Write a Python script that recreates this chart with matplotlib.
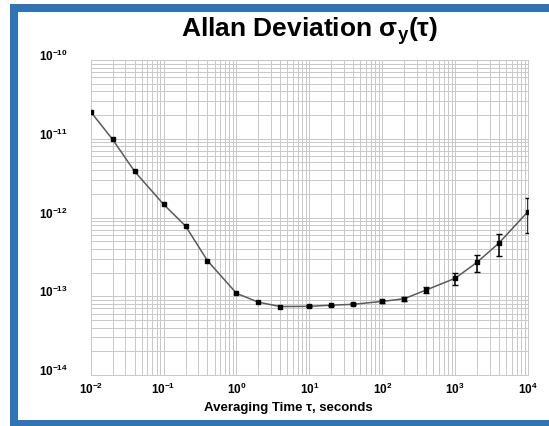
"""
Allan deviation of a frequency standard vs averaging time, log-log with
full decade grid and a blue slide frame round the figure.
"""

import numpy as np
import matplotlib
matplotlib.use("Agg")
import matplotlib.pyplot as plt
import matplotlib.transforms as mtransforms
from matplotlib.patches import Rectangle
from matplotlib.ticker import FixedLocator, FuncFormatter, LogLocator

# averaging times (s), Allan deviation and 1-sigma error bars
tau = [0.01, 0.02, 0.04, 0.1, 0.2, 0.4, 1, 2, 4, 10, 20, 40,
       100, 200, 400, 1000, 2000, 4000, 10000]
adev = [2.2e-11, 9.8e-12, 3.85e-12, 1.47e-12, 7.8e-13, 2.83e-13, 1.09e-13,
        8.4e-14, 7.4e-14, 7.45e-14, 7.7e-14, 7.9e-14,
        8.6e-14, 9.3e-14, 1.2e-13, 1.69e-13, 2.7e-13, 4.74e-13, 1.19e-12]
err = [0, 0, 0, 0, 0, 0, 0,
       0, 0, 2e-15, 1.5e-15, 2e-15,
       4e-15, 6e-15, 1.1e-14, 3e-14, 6.6e-14, 1.5e-13, 5.6e-13]

x_decades = [1e-2, 1e-1, 1e0, 1e1, 1e2, 1e3, 1e4]
y_decades = [1e-14, 1e-13, 1e-12, 1e-11, 1e-10]

W, H = 549, 427
GRID = "#c8c8c8"
FRAME = "#2f74b6"

plt.rcParams["font.family"] = ["Liberation Sans", "DejaVu Sans"]
plt.rcParams["mathtext.fontset"] = "custom"
plt.rcParams["mathtext.rm"] = "Liberation Sans"
plt.rcParams["mathtext.bf"] = "Liberation Sans:bold"
plt.rcParams["mathtext.it"] = "Liberation Sans:italic"


def px(x0, y0, x1, y1):
    # pixel box (from top-left) -> figure fraction rect
    return (x0 / W, 1 - y1 / H, (x1 - x0) / W, (y1 - y0) / H)


fig = plt.figure(figsize=(W / 100, H / 100), dpi=100)

# blue frame, cut off on the right and at the bottom
l, b, w, h = px(10, 5, 600, 460)
fig.patches.append(Rectangle((l, b), w, h, transform=fig.transFigure,
                             facecolor=FRAME, edgecolor="none", zorder=0))
l, b, w, h = px(18.3, 13.3, 600, 421)
fig.patches.append(Rectangle((l, b), w, h, transform=fig.transFigure,
                             facecolor="white", edgecolor="none", zorder=0))

ax = fig.add_axes(px(90.7, 61, 528, 376))
ax.set_zorder(2)
ax.patch.set_alpha(0)

tau = np.array(tau)
adev = np.array(adev)
err = np.array(err)

ax.plot(tau, adev, "-", color="#5a5a5a", lw=1.1, zorder=3)
ax.plot(tau, adev, "s", color="black", ms=2.6, zorder=4)
m = err > 0
ax.errorbar(tau[m], adev[m], yerr=err[m], fmt="none", ecolor="black",
            elinewidth=1.1, capsize=2.5, capthick=1, zorder=4)

ax.set_xscale("log")
ax.set_yscale("log")
ax.set_xlim(x_decades[0], x_decades[-1])
ax.set_ylim(y_decades[0], y_decades[-1])

ax.xaxis.set_major_locator(FixedLocator(x_decades))
ax.yaxis.set_major_locator(FixedLocator(y_decades))
ax.xaxis.set_minor_locator(LogLocator(base=10, subs=np.arange(2, 10)))
ax.yaxis.set_minor_locator(LogLocator(base=10, subs=np.arange(2, 10)))
ax.xaxis.set_minor_formatter(plt.NullFormatter())
ax.yaxis.set_minor_formatter(plt.NullFormatter())

fmt = FuncFormatter(lambda v, pos: r"$\mathbf{10^{%d}}$" % round(np.log10(v)))
ax.xaxis.set_major_formatter(fmt)
ax.yaxis.set_major_formatter(fmt)

ax.grid(True, which="both", color=GRID, lw=0.7)
ax.set_axisbelow(True)
for s in ax.spines.values():
    s.set_color(GRID)
    s.set_linewidth(0.7)

ax.tick_params(which="both", length=0)
ax.tick_params(axis="x", labelsize=8.5, pad=4)
ax.tick_params(axis="y", labelsize=8.5, pad=37)
shift = mtransforms.ScaledTranslation(0, 6 / 100, fig.dpi_scale_trans)
for lab in ax.get_yticklabels():
    lab.set_horizontalalignment("left")
    lab.set_transform(lab.get_transform() + shift)

fig.text(288 / W, 1 - 408 / H, "Averaging Time τ, seconds",
         ha="center", va="center", fontsize=9.5, fontweight="bold")
fig.text(310 / W, 1 - 31 / H, r"Allan Deviation σ$_\mathbf{y}$(τ)",
         ha="center", va="center", fontsize=19, fontweight="bold")

fig.savefig("out.png", dpi=100)
